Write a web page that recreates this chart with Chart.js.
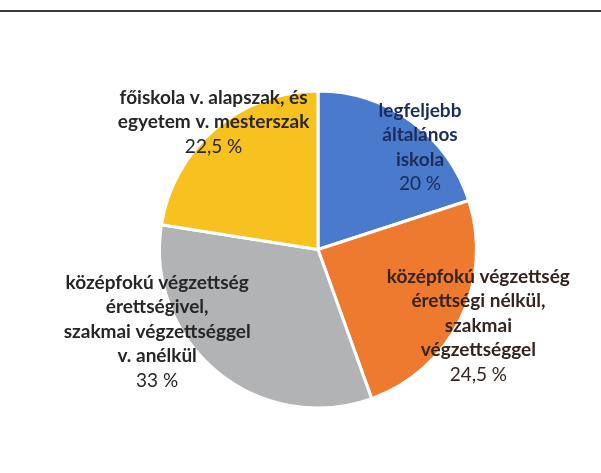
<!DOCTYPE html>
<html lang="hu">
<head>
<meta charset="utf-8">
<title>Végzettség megoszlása</title>
<script src="https://cdn.jsdelivr.net/npm/chart.js@4"></script>
<style>
    html, body { margin: 0; padding: 0; background: #fff; }
    .frame { position: relative; width: 601px; height: 473px; }
    .frame::before {
        content: ''; position: absolute; left: 0; right: 0; top: 10px;
        height: 2px; background: #3a3a3a;
    }
</style>
</head>
<body>
<div class="frame">
    <canvas id="pieChart" width="601" height="473"></canvas>
</div>
<script>
// Data
const categories = [
    ['legfeljebb', 'általános', 'iskola'],
    ['középfokú végzettség', 'érettségi nélkül,', 'szakmai', 'végzettséggel'],
    ['középfokú végzettség', 'érettségivel,', 'szakmai végzettséggel', 'v. anélkül'],
    ['főiskola v. alapszak, és', 'egyetem v. mesterszak']
];
const values = [20, 24.5, 33, 22.5];
const valueLabels = ['20 %', '24,5 %', '33 %', '22,5 %'];

const sliceColors = ['#4a7acb', '#ee7a2f', '#b1b3b5', '#f7c21f'];
const textColors = ['#1b2c58', '#33251e', '#262626', '#262626'];

// label block placement: angle shift from slice middle (deg) and distance as share of radius
const labelPlace = [
    { shift: 9, dist: 0.91 },
    { shift: -0.7, dist: 1.12 },
    { shift: 23.3, dist: 1.14 },
    { shift: 1.2, dist: 1.04 }
];

const FONT = 'Lato, "Open Sans", sans-serif';

const labelPlugin = {
    id: 'sliceLabels',
    afterDatasetsDraw(chart) {
        const ctx = chart.ctx;
        const arcs = chart.getDatasetMeta(0).data;
        const lineH = 24.5;
        ctx.save();
        ctx.textAlign = 'center';
        ctx.textBaseline = 'middle';
        arcs.forEach((arc, i) => {
            const mid = (arc.startAngle + arc.endAngle) / 2 + labelPlace[i].shift * Math.PI / 180;
            const r = arc.outerRadius * labelPlace[i].dist;
            const cx = arc.x + r * Math.cos(mid);
            const cy = arc.y + r * Math.sin(mid);
            const lines = categories[i].concat([valueLabels[i]]);
            const top = cy - (lines.length - 1) * lineH / 2;
            ctx.fillStyle = textColors[i];
            lines.forEach((txt, j) => {
                const isValue = j === lines.length - 1;
                ctx.font = (isValue ? '400 ' : '700 ') + '19px ' + FONT;
                ctx.fillText(txt, cx, top + j * lineH);
            });
        });
        ctx.restore();
    }
};

new Chart(document.getElementById('pieChart'), {
    type: 'pie',
    data: {
        labels: categories.map(c => c.join(' ')),
        datasets: [{
            data: values,
            backgroundColor: sliceColors,
            borderColor: '#ffffff',
            borderWidth: 3
        }]
    },
    options: {
        responsive: false,
        animation: false,
        layout: { padding: { top: 89, bottom: 63, left: 158, right: 123 } },
        plugins: {
            legend: { display: false },
            tooltip: { enabled: false }
        }
    },
    plugins: [labelPlugin]
});
</script>
</body>
</html>
